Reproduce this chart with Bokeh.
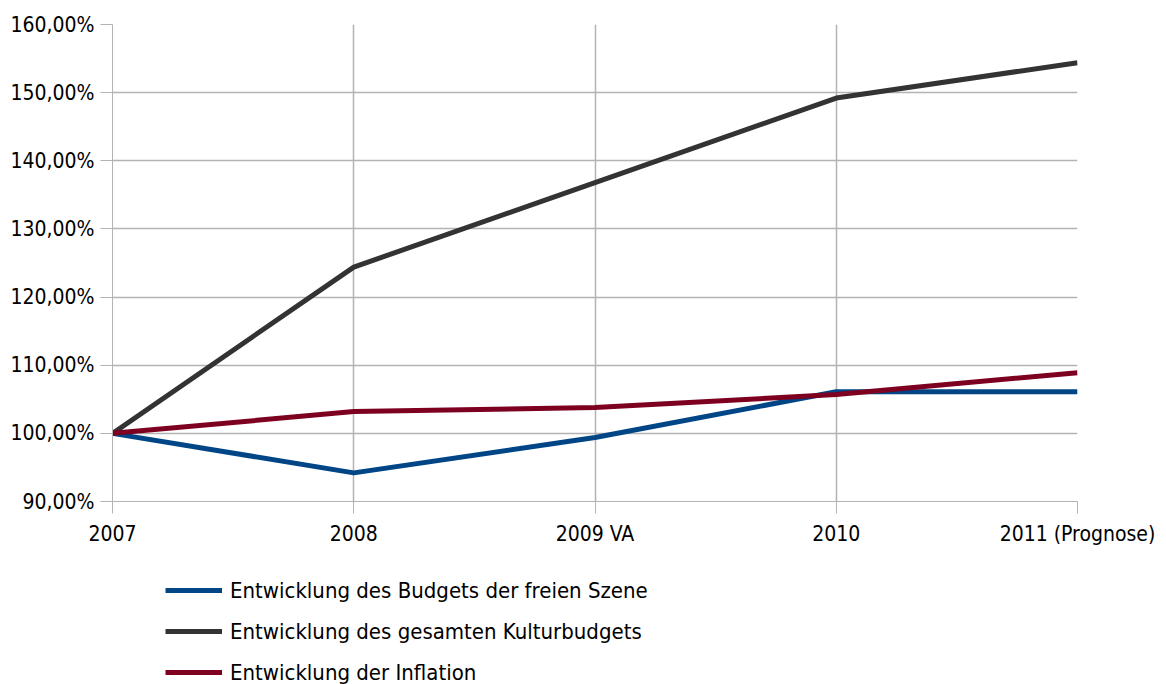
from bokeh.plotting import figure
from bokeh.layouts import column
from bokeh.models import Range1d, FixedTicker, Legend, LegendItem
from bokeh.embed import file_html
from bokeh.resources import INLINE

categories = ["2007", "2008", "2009 VA", "2010", "2011 (Prognose)"]
freie_szene = [100.0, 94.2, 99.4, 106.1, 106.1]
kulturbudget = [100.0, 124.4, 136.8, 149.2, 154.4]
inflation = [100.0, 103.2, 103.8, 105.7, 108.9]
y_ticks = [90, 100, 110, 120, 130, 140, 150, 160]

series_names = [
    "Entwicklung des Budgets der freien Szene",
    "Entwicklung des gesamten Kulturbudgets",
    "Entwicklung der Inflation",
]
colors = ["#004586", "#333333", "#7e0021"]

FONT = "DejaVu Sans Condensed"
GRID = "#b3b3b3"

xs = list(range(len(categories)))
series = [freie_szene, kulturbudget, inflation]

p = figure(output_backend="svg", toolbar_location=None,
           x_range=Range1d(0, len(categories) - 1), y_range=Range1d(90, 160),
           min_border_left=112, min_border_right=81, min_border_top=24, min_border_bottom=60)
p.frame_width = 965
p.frame_height = 477
p.outline_line_color = None
p.background_fill_color = "white"

p.xaxis.ticker = FixedTicker(ticks=xs)
p.xaxis.major_label_overrides = {i: c for i, c in enumerate(categories)}
p.yaxis.ticker = FixedTicker(ticks=y_ticks)
p.yaxis.major_label_overrides = {v: f"{v:.2f}".replace(".", ",") + "%" for v in y_ticks}

for ax in (p.xaxis[0], p.yaxis[0]):
    ax.axis_line_color = GRID
    ax.major_tick_line_color = GRID
    ax.major_tick_out = 12
    ax.major_tick_in = 0
    ax.minor_tick_line_color = None
    ax.major_label_text_font = FONT
    ax.major_label_text_font_size = "21px"
    ax.major_label_text_color = "#000000"
p.yaxis.major_label_standoff = 6
p.xaxis.major_label_standoff = 8

p.xgrid.ticker = FixedTicker(ticks=xs)
p.ygrid.ticker = FixedTicker(ticks=y_ticks)
p.xgrid.grid_line_color = GRID
p.ygrid.grid_line_color = GRID
p.xgrid.grid_line_width = 1.5
p.ygrid.grid_line_width = 1.5

for vals, col in zip(series, colors):
    p.line(xs, vals, line_color=col, line_width=5, line_join="round")

# Legend panel below the chart (its lines lie outside its visible range)
q = figure(output_backend="svg", toolbar_location=None,
           x_range=Range1d(-1, -0.5), y_range=Range1d(0, 1),
           min_border_left=0, min_border_right=0, min_border_top=0, min_border_bottom=0)
q.frame_width = 1158
q.frame_height = 126
q.outline_line_color = None
q.axis.visible = False
q.grid.visible = False

legend_renderers = [q.line(xs, vals, line_color=col, line_width=5) for vals, col in zip(series, colors)]
legend = Legend(items=[LegendItem(label=n, renderers=[r]) for n, r in zip(series_names, legend_renderers)],
                location=(165, 1))
legend.label_text_font = FONT
legend.label_text_font_size = "22px"
legend.label_text_color = "#000000"
legend.glyph_width = 57
legend.glyph_height = 28
legend.label_height = 28
legend.spacing = 13
legend.padding = 0
legend.margin = 0
legend.label_standoff = 8
legend.border_line_color = None
legend.background_fill_alpha = 0
q.add_layout(legend, "center")

layout = column(p, q, spacing=0)
open("out.html", "w").write(file_html(layout, INLINE))
